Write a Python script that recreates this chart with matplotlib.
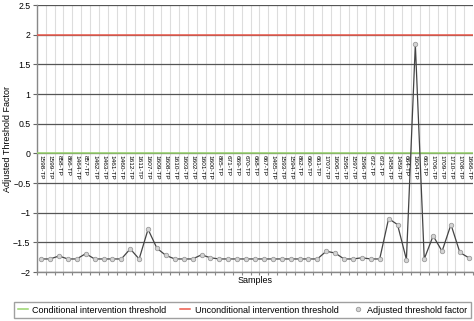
import matplotlib
matplotlib.use("Agg")
import matplotlib.pyplot as plt
from matplotlib.lines import Line2D

plt.rcParams['font.family'] = ['Liberation Sans', 'DejaVu Sans']

# sample ids along the x axis
samples = ['1598-TP', '1599-TP', '858-TP', '866-TP', '1464-TP', '857-TP', '1462-TP',
           '1463-TP', '1461-TP', '1460-TP', '1612-TP', '1611-TP', '1607-TP', '1609-TP',
           '1608-TP', '1610-TP', '1603-TP', '1602-TP', '1601-TP', '1600-TP', '865-TP',
           '671-TP', '669-TP', '670-TP', '668-TP', '667-TP', '1465-TP', '1593-TP',
           '1594-TP', '862-TP', '660-TP', '661-TP', '1707-TP', '1606-TP', '1595-TP',
           '1597-TP', '1596-TP', '672-TP', '673-TP', '1458-TP', '1459-TP', '664-TP',
           '1604-TP', '663-TP', '1706-TP', '1709-TP', '1710-TP', '1708-TP', '1666-TP']

factor = [-1.78, -1.78, -1.73, -1.78, -1.78, -1.69, -1.78, -1.78, -1.78, -1.78,
          -1.61, -1.78, -1.28, -1.60, -1.72, -1.78, -1.78, -1.78, -1.71, -1.76,
          -1.78, -1.78, -1.78, -1.78, -1.78, -1.78, -1.78, -1.78, -1.78, -1.78,
          -1.78, -1.78, -1.65, -1.68, -1.78, -1.78, -1.76, -1.78, -1.78, -1.10,
          -1.20, -1.79, 1.84, -1.78, -1.39, -1.65, -1.20, -1.67, -1.76]

cond_thr = 0
uncond_thr = 2

fig = plt.figure(figsize=(4.74, 3.21), dpi=100)
ax = fig.add_axes([0.0774, 0.1526, 0.921, 0.8315])

n = len(samples)
x = list(range(n))

ax.axhline(cond_thr, color='#98d46c', lw=1.1, zorder=3)
ax.axhline(uncond_thr, color='#ee5a4c', lw=1.1, zorder=3)
ax.plot(x, factor, color='#444444', lw=0.9, zorder=4)
ax.plot(x, factor, ls='none', marker='o', ms=3.2, mfc='#d4d4d4', mec='#9a9a9a',
        mew=0.6, zorder=5)

for i, s in enumerate(samples):
    ax.text(i, -0.03, s, rotation=-90, ha='center', va='top', fontsize=4.6,
            zorder=6)

ax.set_xlim(-0.5, n - 0.5)
ax.set_ylim(-2, 2.5)
ax.set_yticks([-2, -1.5, -1, -0.5, 0, 0.5, 1, 1.5, 2, 2.5])
ax.set_yticklabels(['\u22122', '\u22121.5', '\u22121', '\u22120.5', '0', '0.5', '1',
                    '1.5', '2', '2.5'])
ax.set_xticks([i - 0.5 for i in range(n + 1)])
ax.set_xticklabels([])
ax.tick_params(axis='y', labelsize=6.3, length=3, color='#666666', pad=1.5)
ax.tick_params(axis='x', length=2.5, color='#888888')

ax.grid(axis='x', color='#dddddd', lw=0.8, zorder=0)
ax.grid(axis='y', color='#555555', lw=0.9, zorder=1)
ax.set_axisbelow(True)
for side in ['top', 'right']:
    ax.spines[side].set_visible(False)
for side in ['left', 'bottom']:
    ax.spines[side].set_color('#888888')
    ax.spines[side].set_linewidth(1.0)

ax.set_xlabel('Samples', fontsize=6.5, labelpad=-3)
ax.set_ylabel('Adjusted Threshold Factor', fontsize=6.5, labelpad=1)

handles = [Line2D([], [], color='#98d46c', lw=1.1),
           Line2D([], [], color='#ee5a4c', lw=1.1),
           Line2D([], [], ls='none', marker='o', ms=3.2, mfc='#d4d4d4',
                  mec='#9a9a9a', mew=0.6)]
labels = ['Conditional intervention threshold', 'Unconditional intervention threshold',
          'Adjusted threshold factor']
leg = fig.legend(handles, labels, loc='center', ncol=3, fontsize=6.5,
                 bbox_to_anchor=(0.0295, 0.003, 0.9637, 0.062), mode='expand',
                 frameon=True, fancybox=False, edgecolor='#888888',
                 handlelength=1.1, handletextpad=0.5, borderaxespad=0,
                 borderpad=0.4)
leg.get_frame().set_linewidth(1.0)

fig.savefig('out.png', dpi=100)
